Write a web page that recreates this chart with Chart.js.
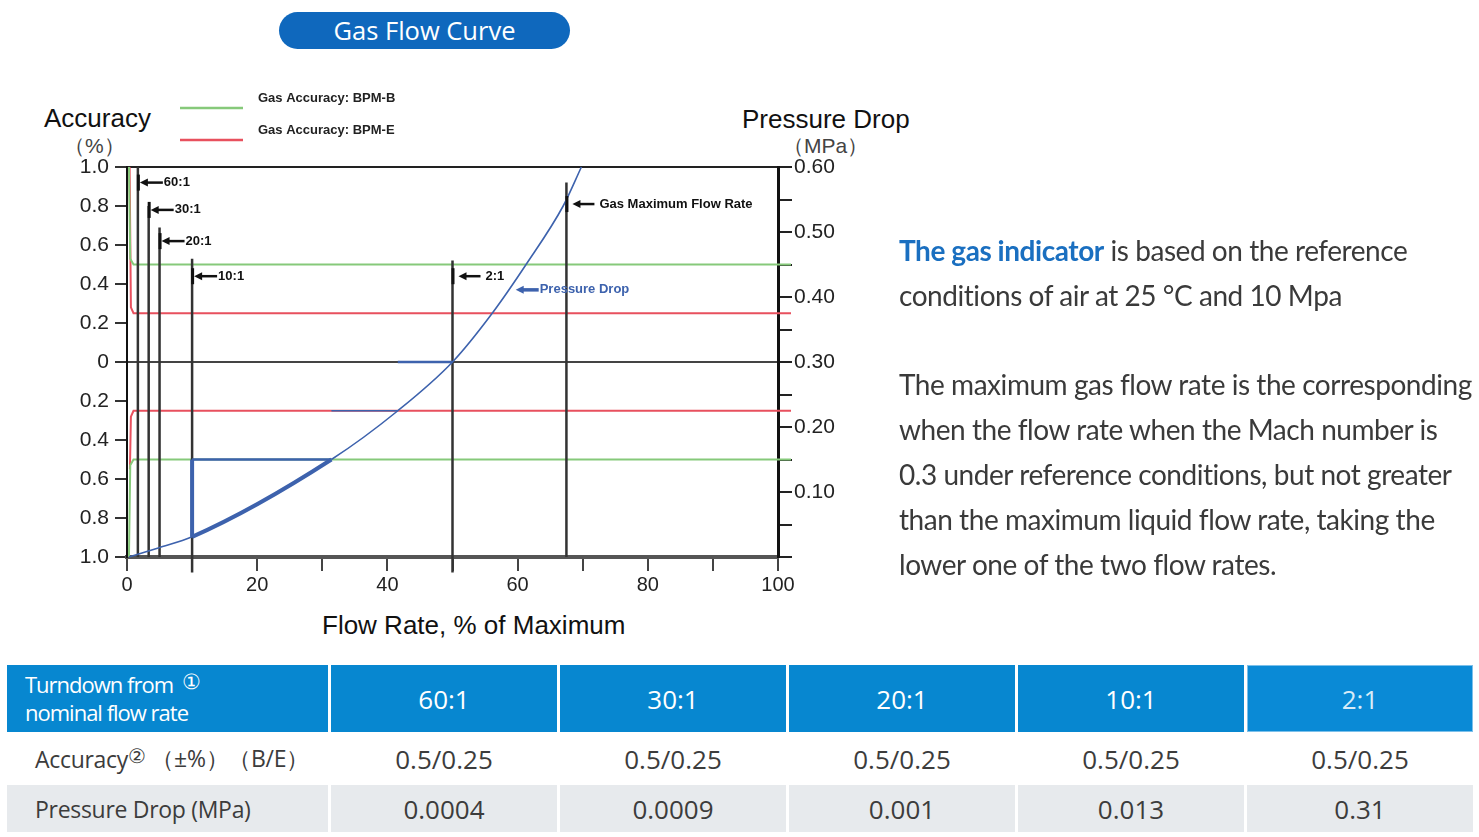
<!DOCTYPE html>
<html>
<head>
<meta charset="utf-8">
<script src="https://cdn.jsdelivr.net/npm/chart.js@4.4.1/dist/chart.umd.min.js"></script>
<style>
  body { margin: 0; width: 1479px; height: 837px; position: relative; background: #fff; overflow: hidden; font-family: "Liberation Sans", Arial, sans-serif; }
  .abs { position: absolute; white-space: nowrap; }
  #pill { left: 279px; top: 12px; width: 291px; height: 37px; border-radius: 19px; background: #0f68bd; color: #fff;
          font: 25.5px "Open Sans", sans-serif; line-height: 37px; text-align: center; }
  .axt { font-size: 26px; color: #111; line-height: 26px; }
  .unit { font-size: 21px; color: #444; line-height: 22px; }
  #wrap { position: absolute; left: 0; top: 0; width: 900px; height: 650px; }
  #note { left: 899px; top: 228px; font: 28px Lato, sans-serif; letter-spacing: -0.45px; color: #3a3a3a; line-height: 44.8px; }
  #note b { color: #1a6fc0; }
  #tbl { position: absolute; left: 7px; top: 665px; display: grid; grid-template-columns: 321px repeat(5, 226px);
         grid-template-rows: 67px 47px 47px; column-gap: 3px; row-gap: 3px; font-family: "Open Sans", sans-serif; }
  #tbl div { display: flex; align-items: center; justify-content: center; color: #3c3c3c; font-size: 26px; }
  #tbl .h { background: #0787d0; color: #fff; font-size: 26px; }
  #tbl .h.first { display: block; padding: 6px 0 0 18px; font-size: 22px; line-height: 27px; letter-spacing: -1px; }
  #tbl .h.last { background: #0a8ad6; color: #d8ecf8; box-shadow: inset 0 0 0 1px #7cc0ea; }
  #tbl .lab { justify-content: flex-start; padding-left: 28px; font-size: 23px; letter-spacing: -0.3px; }
  #tbl .g { background: #e7eaed; }
  sup { font-size: 20px; line-height: 0; position: relative; top: -3px; }
</style>
</head>
<body>
<div id="pill" class="abs">Gas Flow Curve</div>
<div class="abs axt" style="left:44px;top:105px;">Accuracy</div>
<div class="abs unit" style="left:64px;top:135px;">（%）</div>
<div class="abs axt" style="left:742px;top:106px;">Pressure Drop</div>
<div class="abs unit" style="left:783px;top:135px;">（MPa）</div>
<div class="abs" style="left:322px;top:610px;font-size:26px;color:#111;">Flow Rate, % of Maximum</div>
<div id="wrap"><canvas id="c"></canvas></div>
<div id="note" class="abs">
  <b>The gas indicator</b> is based on the reference<br>
  conditions of air at 25 °C and 10 Mpa<br>
  <br>
  The maximum gas flow rate is the corresponding<br>
  when the flow rate when the Mach number is<br>
  0.3 under reference conditions, but not greater<br>
  than the maximum liquid flow rate, taking the<br>
  lower one of the two flow rates.
</div>
<div id="tbl"></div>
<script>
// turndown columns for the table
const turndowns = ['60:1', '30:1', '20:1', '10:1', '2:1'];
const accuracyRow = ['0.5/0.25', '0.5/0.25', '0.5/0.25', '0.5/0.25', '0.5/0.25'];
const pressureRow = ['0.0004', '0.0009', '0.001', '0.013', '0.31'];

// accuracy bands (flow %, accuracy %)
const bpmBFlowTop = [102, 1, 0.5, 0.3];
const bpmBAccTop = [0.5, 0.5, 0.53, 1.0];
const bpmBFlowBot = [102, 1, 0.5, 0.3];
const bpmBAccBot = [-0.5, -0.5, -0.53, -1.0];
const bpmEFlowTop = [102, 1, 0.6, 0.4];
const bpmEAccTop = [0.25, 0.25, 0.28, 1.0];
const bpmEFlowBot = [102, 1, 0.6, 0.45];
const bpmEAccBot = [-0.25, -0.25, -0.28, -0.55];

// pressure drop curve (flow %, MPa)
const pdFlow = [0.3, 4.8, 10, 31.4, 41.6, 50, 56.1, 61.3, 67, 69.8];
const pdValue = [0, 0.014, 0.031, 0.15, 0.225, 0.30, 0.375, 0.45, 0.54, 0.60];
const stepFlow = [10, 10, 31.4, null, 31.4, 41.6, null, 41.6, 50];
const stepValue = [0.031, 0.15, 0.15, null, 0.225, 0.225, null, 0.30, 0.30];

// turndown marker lines (flow %, accuracy span)
const markFlow = [1.67, 3.33, 5, 10, 50, 67.5];
const markTop = [1.0, 0.8, 0.69, 0.53, 0.52, 0.92];
const markBottom = [-1.0, -1.0, -1.0, -1.08, -1.08, -1.0];

// callouts
const noteText = ['60:1', '30:1', '20:1', '10:1', '2:1', 'Gas Maximum Flow Rate', 'Pressure Drop'];
const noteFlow = [1.67, 3.33, 5, 10, 50, 67.5, 59.4];
const noteAcc = [0.92, 0.78, 0.62, 0.44, 0.44, 0.81, 0.37];

// table
const tbl = document.getElementById('tbl');
function cell(cls, html) {
    const d = document.createElement('div');
    d.className = cls;
    d.innerHTML = html;
    tbl.appendChild(d);
}
cell('h first', 'Turndown from <span style="font-size:21px;margin-left:4px;position:relative;top:-4px">①</span><br>nominal flow rate');
turndowns.forEach((t, i) => cell(i === turndowns.length - 1 ? 'h last' : 'h', t));
cell('lab', 'Accuracy<sup>②</sup>&nbsp;（±%）（B/E）');
accuracyRow.forEach(v => cell('', v));
cell('lab g', 'Pressure Drop (MPa)');
pressureRow.forEach(v => cell('g', v));

function pts(xs, ys) {
    return xs.map((x, i) => ({ x: x, y: ys[i] }));
}
const gap = { x: null, y: null };

const markPts = [];
markFlow.forEach((x, i) => {
    markPts.push({ x: x, y: markBottom[i] }, { x: x, y: markTop[i] }, gap);
});

// legend + callouts drawn on the canvas
const extras = {
    id: 'extras',
    afterDatasetsDraw(chart) {
        const ctx = chart.ctx;
        const xs = chart.scales.x, ys = chart.scales.y;
        ctx.save();
        // legend
        chart.data.datasets.forEach(ds => {
            if (!ds.legendY) return;
            ctx.strokeStyle = ds.borderColor;
            ctx.lineWidth = 2.5;
            ctx.beginPath();
            ctx.moveTo(180, ds.legendY);
            ctx.lineTo(243, ds.legendY);
            ctx.stroke();
            ctx.fillStyle = '#222';
            ctx.font = 'bold 13px "Liberation Sans", Arial';
            ctx.textBaseline = 'middle';
            ctx.fillText(ds.label, 258, ds.legendY - 10);
        });
        // callouts
        noteText.forEach((t, i) => {
            const px = xs.getPixelForValue(noteFlow[i]);
            const py = ys.getPixelForValue(noteAcc[i]);
            const blue = t === 'Pressure Drop';
            const far = t === '2:1' || t.startsWith('Gas');
            const col = blue ? '#3d62ad' : '#111';
            ctx.fillStyle = col;
            ctx.strokeStyle = col;
            if (!blue) {
                ctx.fillRect(px - 1, py - 8, 3, 16);
            }
            const a0 = far ? 6 : 2;
            ctx.lineWidth = blue ? 3.5 : 2.5;
            ctx.beginPath();
            ctx.moveTo(a0 + 4, py);
            ctx.moveTo(px + a0 + 4, py);
            ctx.lineTo(px + (far ? 28 : 25), py);
            ctx.stroke();
            ctx.beginPath();
            ctx.moveTo(px + a0, py);
            ctx.lineTo(px + a0 + 8, py - 4);
            ctx.lineTo(px + a0 + 8, py + 4);
            ctx.closePath();
            ctx.fill();
            ctx.font = 'bold 13px "Liberation Sans", Arial';
            ctx.textBaseline = 'middle';
            ctx.fillText(t, px + (far ? 33 : 26), py);
        });
        ctx.restore();
    }
};

new Chart(document.getElementById('c'), {
    type: 'line',
    data: {
        datasets: [
            {
                label: 'Pressure Drop',
                data: pts(pdFlow, pdValue),
                borderColor: '#3d62ad',
                borderWidth: 1.6,
                segment: {
                    borderWidth: c => (c.p0.parsed.x >= 10 && c.p1.parsed.x <= 31.4 ? 4 : 1.6)
                },
                cubicInterpolationMode: 'monotone',
                yAxisID: 'y2',
                clip: false
            },
            {
                label: 'steps',
                data: pts(stepFlow, stepValue),
                borderColor: '#3d62ad',
                borderWidth: 2.5,
                segment: {
                    borderWidth: c => (c.p0.parsed.x === c.p1.parsed.x ? 4 : (c.p0.parsed.y === 0.225 ? 1.5 : 2.5))
                },
                yAxisID: 'y2'
            },
            {
                label: 'turndown',
                data: markPts,
                borderColor: '#333',
                borderWidth: 2.5,
                yAxisID: 'y',
                clip: false
            },
            {
                label: 'Gas Accuracy: BPM-B',
                legendY: 108,
                data: pts(bpmBFlowTop, bpmBAccTop).concat([gap], pts(bpmBFlowBot, bpmBAccBot)),
                borderColor: '#86c97a',
                borderWidth: 2,
                yAxisID: 'y',
                clip: false
            },
            {
                label: 'Gas Accuracy: BPM-E',
                legendY: 140,
                data: pts(bpmEFlowTop, bpmEAccTop).concat([gap], pts(bpmEFlowBot, bpmEAccBot)),
                borderColor: '#e8505e',
                borderWidth: 2,
                yAxisID: 'y',
                clip: false
            }
        ]
    },
    options: {
        responsive: true,
        maintainAspectRatio: false,
        animation: false,
        events: [],
        elements: { point: { radius: 0 } },
        layout: { padding: { top: 167, left: 0, right: 42, bottom: 53 } },
        plugins: { legend: { display: false }, tooltip: { enabled: false } },
        scales: {
            x: {
                type: 'linear',
                min: 0,
                max: 100,
                afterFit: s => { s.height = 40; },
                border: { color: '#555', width: 4 },
                grid: { drawOnChartArea: false, tickLength: 14, tickColor: '#444', lineWidth: 2 },
                ticks: {
                    stepSize: 10,
                    autoSkip: false,
                    maxRotation: 0,
                    padding: 2,
                    color: '#222',
                    font: { family: '"Liberation Sans", Arial', size: 20 },
                    callback: v => (v % 20 === 0 ? String(v) : '')
                }
            },
            y: {
                position: 'left',
                min: -1,
                max: 1,
                afterFit: s => { s.width = 127; },
                border: { color: '#111', width: 2 },
                grid: {
                    color: c => (Math.abs(c.tick.value) < 1e-6 ? '#444' : (c.tick.value > 0.99 ? '#222' : 'transparent')),
                    tickColor: '#333',
                    tickLength: 12,
                    lineWidth: 2
                },
                ticks: {
                    stepSize: 0.2,
                    autoSkip: false,
                    padding: 6,
                    color: '#222',
                    font: { family: '"Liberation Sans", Arial', size: 21 },
                    callback: v => {
                        const r = Math.abs(Math.round(v * 10) / 10);
                        return r === 0 ? '0' : r.toFixed(1);
                    }
                }
            },
            y2: {
                position: 'right',
                min: 0,
                max: 0.6,
                afterFit: s => { s.width = 80; },
                border: { color: '#111', width: 3 },
                grid: { drawOnChartArea: false, tickLength: 14, tickColor: '#222', lineWidth: 2 },
                ticks: {
                    stepSize: 0.05,
                    autoSkip: false,
                    padding: 2,
                    color: '#222',
                    font: { family: '"Liberation Sans", Arial', size: 21 },
                    callback: v => {
                        const r = Math.round(v * 100);
                        return (r % 10 === 0 && r > 0) ? (r / 100).toFixed(2) : '';
                    }
                }
            }
        }
    },
    plugins: [extras]
});
</script>
</body>
</html>
